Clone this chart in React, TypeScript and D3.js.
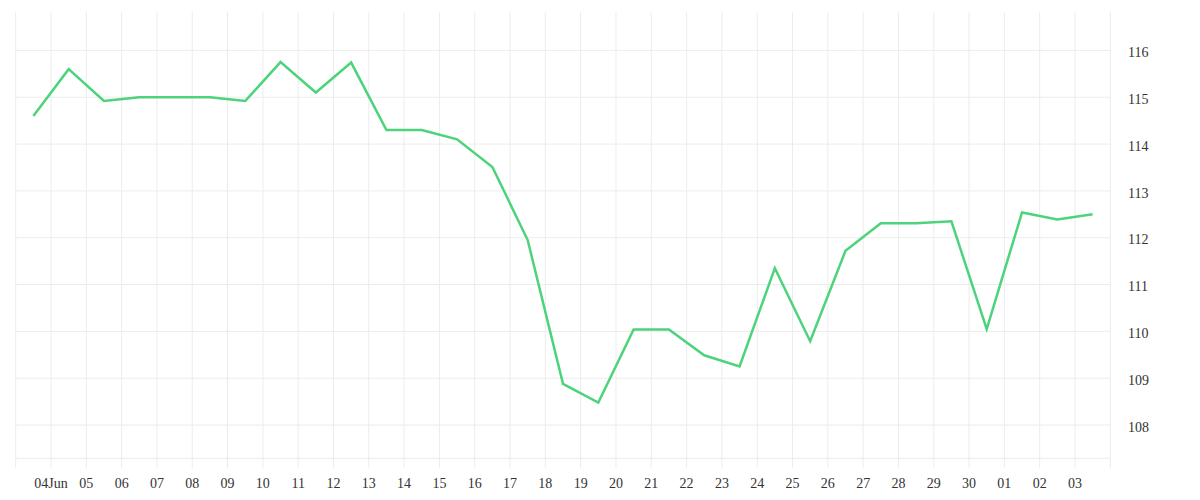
import * as d3 from "d3";

const dates = [
  "2023-06-03", "2023-06-04", "2023-06-05", "2023-06-06", "2023-06-07", "2023-06-08",
  "2023-06-09", "2023-06-10", "2023-06-11", "2023-06-12", "2023-06-13", "2023-06-14",
  "2023-06-15", "2023-06-16", "2023-06-17", "2023-06-18", "2023-06-19", "2023-06-20",
  "2023-06-21", "2023-06-22", "2023-06-23", "2023-06-24", "2023-06-25", "2023-06-26",
  "2023-06-27", "2023-06-28", "2023-06-29", "2023-06-30", "2023-07-01", "2023-07-02",
  "2023-07-03",
];
const values = [
  114.6, 115.6, 114.92, 115.0, 115.0, 115.0, 114.92, 115.75, 115.1, 115.74, 114.3,
  114.3, 114.1, 113.51, 111.95, 108.88, 108.48, 110.04, 110.04, 109.49, 109.25,
  111.35, 109.79, 111.72, 112.31, 112.31, 112.35, 110.05, 112.54, 112.39, 112.5,
];
const yTicks = [108, 109, 110, 111, 112, 113, 114, 115, 116];
const yDomain = [107.29, 116.82];

const W = 1200;
const H = 500;
const left = 15.7;
const right = 1110.3;
const top = 12;
const bottom = 458.3;
const grid = "#ececec";
const text = "#333";

export default function App() {
  const parse = d3.utcParse("%Y-%m-%d");
  const pts = dates.map((d, i) => ({ t: d3.utcHour.offset(parse(d)!, 12), v: values[i] }));
  const start = parse(dates[0])!;
  const end = d3.utcDay.offset(parse(dates[dates.length - 1])!, 1);

  const x = d3.scaleUtc().domain([start, end]).range([left, right]);
  const y = d3.scaleLinear().domain(yDomain).range([bottom, top]);

  const days = d3.utcDay.range(start, d3.utcDay.offset(end, 1));
  const fmt = (d: Date, i: number) =>
    i === 1 ? d3.utcFormat("%d%b")(d) : d3.utcFormat("%d")(d);

  const line = d3
    .line<{ t: Date; v: number }>()
    .x((d) => x(d.t))
    .y((d) => y(d.v));

  return (
    <svg
      width={W}
      height={H}
      style={{ position: "absolute", left: 0, top: 0, fontFamily: "'Liberation Serif', serif" }}
    >
      <rect width={W} height={H} fill="#fff" />
      {yTicks.map((t) => (
        <line key={"h" + t} x1={left} x2={right} y1={y(t)} y2={y(t)} stroke={grid} />
      ))}
      <line x1={left} x2={right} y1={bottom} y2={bottom} stroke={grid} />
      {days.map((d) => (
        <line key={"v" + d.getTime()} x1={x(d)} x2={x(d)} y1={top} y2={468} stroke={grid} />
      ))}
      {days.slice(1, -1).map((d, i) => (
        <text
          key={"xl" + d.getTime()}
          x={x(d)}
          y={488}
          textAnchor="middle"
          fontSize={14}
          fill={text}
        >
          {fmt(d, i + 1)}
        </text>
      ))}
      {yTicks.map((t) => (
        <text key={"yl" + t} x={1128} y={y(t)} dy="0.48em" fontSize={14} fill={text}>
          {t}
        </text>
      ))}
      <path d={line(pts)!} fill="none" stroke="#4cd37b" strokeWidth={2.5} strokeLinejoin="miter" />
    </svg>
  );
}
